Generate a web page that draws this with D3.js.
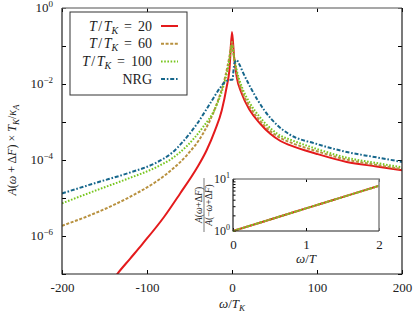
<!DOCTYPE html>
<html>
<head>
<meta charset="utf-8">
<script src="https://cdn.jsdelivr.net/npm/d3@7"></script>
<style>
  body { margin: 0; background: #fff; }
  text { font-family: "Liberation Serif", "DejaVu Serif", serif; fill: #222; }
</style>
</head>
<body>
<div id="chart"></div>
<script>
// spectral function, values read as log10(A) at omega/T_K
var omegaT20 = [-140, -135, -120, -105, -80, -61, -41.5, -30, -20, -12, -6.3, -3, 0, 2.5, 5.5, 11.4, 21, 33, 45, 57, 68, 100, 135, 170, 200];
var logT20   = [-7.15, -7.0, -6.6, -6.2, -5.5, -4.88, -4.22, -3.75, -3.22, -2.69, -2.08, -1.62, -0.63, -1.3, -1.81, -2.25, -2.69, -3.04, -3.31, -3.5, -3.61, -3.84, -4.05, -4.17, -4.27];

var omegaT60 = [-200, -160, -120, -90, -70, -53, -34, -18, -8, -2.3, 0, 2.3, 6, 12, 21, 33, 45, 57, 68, 100, 135, 170, 200];
var logT60   = [-5.73, -5.39, -4.97, -4.58, -4.24, -3.87, -3.3, -2.53, -1.81, -1.19, -0.89, -1.3, -1.75, -2.2, -2.6, -2.97, -3.24, -3.42, -3.53, -3.77, -3.99, -4.13, -4.24];

var omegaT100 = [-200, -160, -120, -90, -70, -53, -34, -20, -10, -4, 0, 2.5, 6, 12, 21, 33, 45, 57, 68, 100, 135, 170, 200];
var logT100   = [-5.14, -4.8, -4.47, -4.2, -3.95, -3.63, -3.13, -2.65, -2.05, -1.5, -0.98, -1.3, -1.68, -2.1, -2.5, -2.88, -3.16, -3.36, -3.46, -3.71, -3.94, -4.08, -4.19];

var omegaNRG = [-200, -160, -120, -90, -70, -57, -41.5, -26, -14, -8, -4, 0.8, 1.5, 3, 5.5, 9, 13, 22, 38, 54, 68, 100, 135, 170, 200];
var logNRG   = [-4.88, -4.6, -4.33, -4.08, -3.8, -3.5, -3.06, -2.52, -2.1, -1.94, -1.9, -1.88, -1.7, -1.45, -1.37, -1.5, -1.7, -2.1, -2.69, -3.1, -3.33, -3.58, -3.79, -3.93, -4.05];

// inset: A(w+dF)/A(-w+dF) against omega/T
var insetOmega = [0, 0.5, 1, 1.5, 2];
var insetRatio = [1, 1.65, 2.72, 4.48, 7.39];

var xTicks = [-200, -100, 0, 100, 200];
var yTickExp = [0, -1, -2, -3, -4, -5, -6, -7];
var yLabelExp = [0, -2, -4, -6];
var insetXTicks = [0, 1, 2];

var series = [
  { name: "T20", label: "20", om: omegaT20, lg: logT20, color: "#e41a1c", dash: null },
  { name: "T60", label: "60", om: omegaT60, lg: logT60, color: "#b8913f", dash: "3,1.6" },
  { name: "T100", label: "100", om: omegaT100, lg: logT100, color: "#78c61f", dash: "1.6,1.6" },
  { name: "NRG", label: "NRG", om: omegaNRG, lg: logNRG, color: "#16678c", dash: "4,1.8,1.6,1.8" }
];

var W = 415, H = 316;
var margin = {top: 8, right: 13, bottom: 42, left: 62},
    width = W - margin.left - margin.right,
    height = H - margin.top - margin.bottom;

var svg = d3.select("#chart").append("svg")
    .attr("width", W).attr("height", H);

var g = svg.append("g")
    .attr("transform", "translate(" + margin.left + "," + margin.top + ")");

var x = d3.scaleLinear().domain([-200, 200]).range([0, width]);
var y = d3.scaleLog().domain([1e-7, 1]).range([height, 0]);

g.append("clipPath").attr("id", "clip")
  .append("rect").attr("width", width).attr("height", height);

// ticks (inward), all four sides
var tickLen = 4;
g.append("g").attr("transform", "translate(0," + height + ")")
  .call(d3.axisBottom(x).tickValues(xTicks).tickSize(-tickLen).tickPadding(9).tickFormat(function(d) { return String(d); }))
  .attr("font-family", "Liberation Serif").attr("font-size", 13)
  .call(function(a) { a.select(".domain").remove(); });
g.append("g")
  .call(d3.axisTop(x).tickValues(xTicks).tickSize(-tickLen).tickFormat(""))
  .call(function(a) { a.select(".domain").remove(); });

var yTickVals = yTickExp.map(function(e) { return Math.pow(10, e); });
g.append("g")
  .call(d3.axisLeft(y).tickValues(yTickVals).tickSize(-tickLen).tickFormat(""))
  .call(function(a) { a.select(".domain").remove(); });
g.append("g").attr("transform", "translate(" + width + ",0)")
  .call(d3.axisRight(y).tickValues(yTickVals).tickSize(-tickLen).tickFormat(""))
  .call(function(a) { a.select(".domain").remove(); });

// y tick labels with superscripts
yLabelExp.forEach(function(e) {
  var t = g.append("text")
    .attr("x", -9).attr("y", y(Math.pow(10, e)) + 4)
    .attr("text-anchor", "end").attr("font-size", 13);
  t.append("tspan").text("10");
  t.append("tspan").attr("dy", -5).attr("font-size", 9).text(e === 0 ? "0" : "\u2212" + (-e));
});

// curves
var line = d3.line()
  .x(function(d) { return x(d[0]); })
  .y(function(d) { return y(d[1]); })
  .curve(d3.curveMonotoneX);

var plot = g.append("g").attr("clip-path", "url(#clip)");
series.forEach(function(s) {
  var pts = s.om.map(function(o, i) { return [o, Math.pow(10, s.lg[i])]; });
  plot.append("path")
    .datum(pts)
    .attr("fill", "none")
    .attr("stroke", s.color)
    .attr("stroke-width", 2)
    .attr("stroke-dasharray", s.dash)
    .attr("d", line);
});

// frame
g.append("line").attr("x1", 0).attr("x2", width).attr("y1", 0).attr("y2", 0)
  .attr("stroke", "#8a8a8a").attr("stroke-width", 1.6);
g.append("path")
  .attr("d", "M0,0V" + height + "H" + width + "V0")
  .attr("fill", "none").attr("stroke", "#222").attr("stroke-width", 1.2);

// legend
var lg = g.append("g");
lg.append("rect")
  .attr("x", 70 - margin.left).attr("y", 12 - margin.top)
  .attr("width", 117).attr("height", 83)
  .attr("fill", "#fff").attr("stroke", "#333").attr("stroke-width", 1);
series.forEach(function(s, i) {
  var cy = 26 - margin.top + i * 17.7;
  var t = lg.append("text")
    .attr("x", 152 - margin.left).attr("y", cy + 4.5)
    .attr("text-anchor", "end").attr("font-size", 14);
  if (s.name === "NRG") {
    t.text("NRG");
  } else {
    t.append("tspan").attr("font-style", "italic").text("T");
    t.append("tspan").attr("dx", 1.5).text("/");
    t.append("tspan").attr("dx", 1.5).attr("font-style", "italic").text("T");
    t.append("tspan").attr("font-style", "italic").attr("font-size", 10).attr("dy", 3).text("K");
    t.append("tspan").attr("dy", -3).attr("dx", 6).text("=");
    t.append("tspan").attr("dx", 6).text(s.label);
  }
  lg.append("line")
    .attr("x1", 161 - margin.left).attr("x2", 178 - margin.left)
    .attr("y1", cy).attr("y2", cy)
    .attr("stroke", s.color).attr("stroke-width", 2)
    .attr("stroke-dasharray", s.dash);
});

// axis titles
var xt = svg.append("text")
  .attr("x", margin.left + width / 2).attr("y", 308)
  .attr("text-anchor", "middle").attr("font-size", 13);
xt.append("tspan").attr("font-style", "italic").text("\u03c9");
xt.append("tspan").text("/");
xt.append("tspan").attr("font-style", "italic").text("T");
xt.append("tspan").attr("font-style", "italic").attr("font-size", 9).attr("dy", 3).text("K");

var yt = svg.append("text")
  .attr("transform", "translate(16,150) rotate(-90)")
  .attr("text-anchor", "middle").attr("font-size", 12);
yt.append("tspan").attr("font-style", "italic").text("A");
yt.append("tspan").text("(");
yt.append("tspan").attr("font-style", "italic").text("\u03c9");
yt.append("tspan").text(" + \u0394");
yt.append("tspan").attr("font-style", "italic").text("F");
yt.append("tspan").text(") \u00d7 ");
yt.append("tspan").attr("font-style", "italic").text("T");
yt.append("tspan").attr("font-style", "italic").attr("font-size", 9).attr("dy", 3).text("K");
yt.append("tspan").attr("dy", -3).text("/");
yt.append("tspan").attr("font-style", "italic").text("\u03ba");
yt.append("tspan").attr("font-style", "italic").attr("font-size", 9).attr("dy", 3).text("A");

// inset
var ins = {left: 233, top: 179, width: 146, height: 52};
var ig = svg.append("g").attr("transform", "translate(" + ins.left + "," + ins.top + ")");
var ix = d3.scaleLinear().domain([0, 2]).range([0, ins.width]);
var iy = d3.scaleLog().domain([1, 10]).range([ins.height, 0]);

ig.append("rect").attr("width", ins.width).attr("height", ins.height).attr("fill", "#fff");

ig.append("g").attr("transform", "translate(0," + ins.height + ")")
  .call(d3.axisBottom(ix).tickValues(insetXTicks).tickSize(-3).tickPadding(9).tickFormat(function(d) { return String(d); }))
  .attr("font-family", "Liberation Serif").attr("font-size", 13)
  .call(function(a) { a.select(".domain").remove(); });
ig.append("g")
  .call(d3.axisTop(ix).tickValues(insetXTicks).tickSize(-3).tickFormat(""))
  .call(function(a) { a.select(".domain").remove(); });
ig.append("g")
  .call(d3.axisLeft(iy).tickValues(d3.range(1, 11)).tickSize(-2.5).tickFormat(""))
  .call(function(a) { a.select(".domain").remove(); });

[[1, "0"], [10, "1"]].forEach(function(p) {
  var t = ig.append("text")
    .attr("x", -3).attr("y", iy(p[0]) + 4)
    .attr("text-anchor", "end").attr("font-size", 12);
  t.append("tspan").text("10");
  t.append("tspan").attr("dy", -5).attr("font-size", 8).text(p[1]);
});

var iline = d3.line()
  .x(function(d) { return ix(d[0]); })
  .y(function(d) { return iy(d[1]); })
  .curve(d3.curveMonotoneX);
var ipts = insetOmega.map(function(o, i) { return [o, insetRatio[i]]; });
series.slice(0, 3).forEach(function(s) {
  ig.append("path").datum(ipts)
    .attr("fill", "none").attr("stroke", s.color)
    .attr("stroke-width", 2).attr("stroke-dasharray", s.dash)
    .attr("d", iline);
});

ig.append("path")
  .attr("d", "M0,0H" + ins.width + "V" + ins.height)
  .attr("fill", "none").attr("stroke", "#8a8a8a").attr("stroke-width", 1.6);
ig.append("path")
  .attr("d", "M0,0V" + ins.height + "H" + ins.width)
  .attr("fill", "none").attr("stroke", "#222").attr("stroke-width", 1.2);

var ixt = ig.append("text")
  .attr("x", ins.width / 2).attr("y", 84)
  .attr("text-anchor", "middle").attr("font-size", 13);
ixt.append("tspan").attr("font-style", "italic").text("\u03c9");
ixt.append("tspan").text("/");
ixt.append("tspan").attr("font-style", "italic").text("T");

// inset y title: fraction, rotated
var fy = svg.append("g")
  .attr("transform", "translate(204," + (ins.top + 26) + ") rotate(-90)");
function ratioText(sel, neg) {
  sel.append("tspan").attr("font-style", "italic").text("A");
  sel.append("tspan").text("(" + (neg ? "\u2212" : ""));
  sel.append("tspan").attr("font-style", "italic").text("\u03c9");
  sel.append("tspan").text("+\u0394");
  sel.append("tspan").attr("font-style", "italic").text("F");
  sel.append("tspan").text(")");
}
ratioText(fy.append("text").attr("y", -2).attr("text-anchor", "middle").attr("font-size", 9.5), false);
ratioText(fy.append("text").attr("y", 8).attr("text-anchor", "middle").attr("font-size", 9.5), true);
fy.append("line").attr("x1", -27).attr("x2", 27).attr("y1", 0).attr("y2", 0)
  .attr("stroke", "#222").attr("stroke-width", 0.6);
</script>
</body>
</html>
